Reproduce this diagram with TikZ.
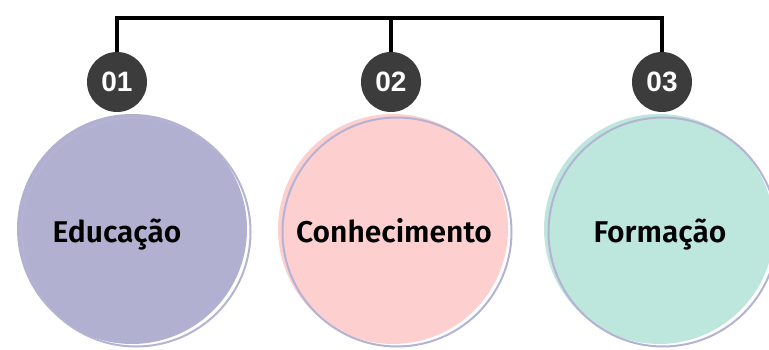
\documentclass[tikz,border=0pt]{standalone}
\usepackage{fontspec}
\setmainfont{Fira Sans}
\newfontfamily\labfont{Fira Sans SemiBold}
\newfontfamily\numfont{Liberation Sans}
\definecolor{lav}{HTML}{B1B0D0}
\definecolor{ring}{HTML}{B4B3D3}
\definecolor{pinkc}{HTML}{FDCFCF}
\definecolor{mint}{HTML}{BDE6DD}
\definecolor{badgec}{HTML}{3C3C3C}
\begin{document}
\begin{tikzpicture}[x=1pt,y=-1pt,
  bigc/.style={circle,minimum size=230pt,inner sep=0pt},
  ringc/.style={circle,minimum size=229pt,inner sep=0pt,draw=ring,line width=2pt},
  badge/.style={circle,fill=badgec,minimum size=60pt,inner sep=0pt,text=white,font=\numfont\bfseries\fontsize{28}{28}\selectfont},
  lab/.style={font=\labfont\fontsize{30}{30}\selectfont,text=black,anchor=base,inner sep=0pt},
  conn/.style={line width=3.2pt,black}]
\useasboundingbox (0,0) rectangle (769,350);
% circles
\node[bigc,fill=lav] (c1) at (132,229) {};
\node[ringc] (r1) at (136,232) {};
\node[bigc,fill=pinkc] (c2) at (393,229) {};
\node[ringc] (r2) at (397,232) {};
\node[bigc,fill=mint] (c3) at (659,229) {};
\node[ringc] (r3) at (663,232) {};
% labels
\node[lab] (t1) at (117,243) {Educação};
\node[lab] (t2) at (394,243) {Conhecimento};
\node[lab] (t3) at (660,243) {Formação};
% badges
\node[badge] (b1) at (117,82) {01};
\node[badge] (b2) at (391,82) {02};
\node[badge] (b3) at (662,82) {03};
% connectors
\coordinate (h1) at (117,18);
\coordinate (h2) at (391,18);
\coordinate (h3) at (662,18);
\draw[conn] (b1.north) -- (h1) -- (h3) -- (b3.north);
\draw[conn] (h2) -- (b2.north);
\end{tikzpicture}
\end{document}
